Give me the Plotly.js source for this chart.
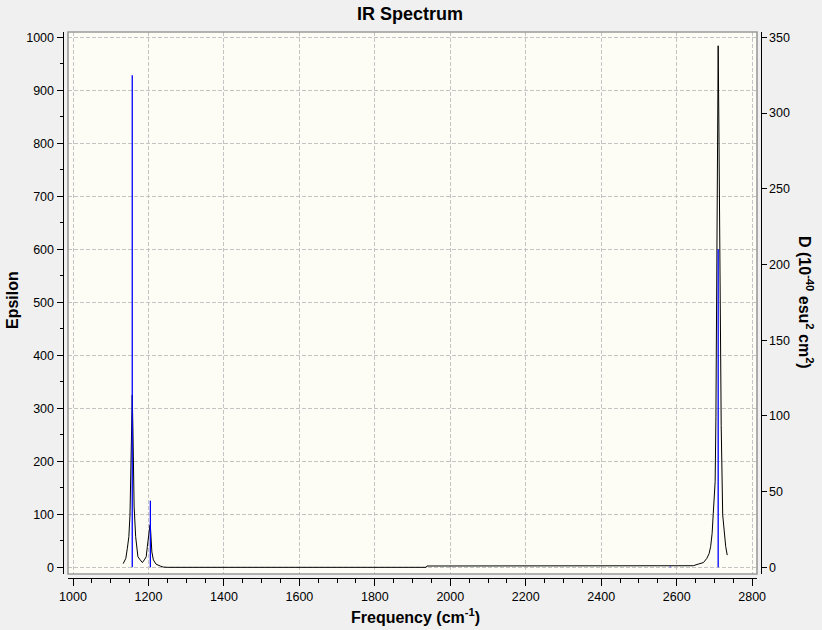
<!DOCTYPE html>
<html>
<head>
<meta charset="utf-8">
<script src="https://cdn.plot.ly/plotly-3.0.1.min.js"></script>
<style>
  html, body { margin: 0; padding: 0; background: #f0f0f0; }
  #chart { width: 822px; height: 630px; }
</style>
</head>
<body>
<div id="chart"></div>
<script>
// Broadened spectrum (black)
const freq = [1133, 1140, 1144, 1148, 1151, 1153, 1155, 1157, 1159, 1160, 1162, 1166, 1169, 1172, 1178, 1184,
  1189, 1194, 1197, 1200, 1202, 1204, 1205, 1207, 1209, 1213, 1220, 1231, 1239, 1250, 1600, 1936, 1938,
  2300, 2600, 2644, 2657, 2671, 2680, 2686, 2690, 2694, 2697, 2702, 2704, 2706, 2708, 2710, 2712, 2715,
  2718, 2722, 2726, 2730, 2734];
const epsilon = [7, 17, 36, 58, 99, 184, 278, 325, 250, 160, 114, 58, 33, 20, 14, 9,
  14, 20, 39, 58, 80, 80, 78, 52, 29, 14, 6, 2.5, 0.5, 0, 0, 0, 2.5,
  2.5, 2.5, 3, 6, 9, 17, 26, 39, 64, 102, 162, 284, 533, 839, 984, 823, 504,
  268, 99, 64, 39, 23];

// Stick spectrum (blue), dipole strength D
const stickFreq = [1157, 1205, 2583, 2710];
const stickD = [325, 44, 0.5, 210];

const font = 'Liberation Sans, Arial, sans-serif';

// plot frame in pixels (paper is 822 x 630, margins are zero)
const W = 822, H = 630;
const px = v => v / W;
const py = v => 1 - v / H;

const sx = [], sy = [];
stickFreq.forEach((f, i) => { sx.push(f, f, null); sy.push(0, stickD[i], null); });

const data = [
  { type: 'scatter', mode: 'lines', x: freq, y: epsilon, line: { color: '#000000', width: 1 },
    hoverinfo: 'x+y', showlegend: false },
  { type: 'scatter', mode: 'lines', x: sx, y: sy, yaxis: 'y2', line: { color: '#0000ff', width: 1.3 },
    hoverinfo: 'x+y', showlegend: false }
];

const grid = { gridcolor: '#c4c4c4', griddash: '4px,2px', gridwidth: 1 };

const layout = {
  width: W, height: H,
  margin: { l: 0, r: 0, t: 0, b: 0 },
  paper_bgcolor: '#f0f0f0',
  plot_bgcolor: '#fdfdf5',
  font: { family: font, size: 12, color: '#000' },
  showlegend: false,
  xaxis: {
    domain: [px(68), px(757)], range: [986.7, 2812.9],
    anchor: 'free', position: py(577.7),
    tick0: 1000, dtick: 200, ticks: 'outside', ticklen: 7, tickcolor: '#000',
    minor: { dtick: 50, ticklen: 4, tickcolor: '#000', ticks: 'outside', showgrid: false },
    showline: true, linecolor: '#000', linewidth: 1, zeroline: false,
    showgrid: true, ...grid,
    tickfont: { size: 12.5 }
  },
  yaxis: {
    domain: [py(574), py(32)], range: [-12.6, 1010],
    anchor: 'free', position: px(62.5),
    tick0: 0, dtick: 100, ticks: 'outside', ticklen: 6, tickcolor: '#000',
    minor: { dtick: 50, ticklen: 3, tickcolor: '#000', ticks: 'outside', showgrid: false },
    showline: true, linecolor: '#000', linewidth: 1, zeroline: false,
    showgrid: true, ...grid,
    tickfont: { size: 12.5 }
  },
  yaxis2: {
    overlaying: 'y', side: 'right', range: [-4.41, 353.5],
    anchor: 'free', position: px(760.5),
    tick0: 0, dtick: 50, ticks: 'outside', ticklen: 5, tickcolor: '#000',
    showline: true, linecolor: '#000', linewidth: 1, zeroline: false, showgrid: false,
    tickfont: { size: 12.5 }
  },
  shapes: [
    { type: 'rect', xref: 'paper', yref: 'paper', x0: px(68), x1: px(757), y0: py(574), y1: py(32),
      line: { color: '#9a9a9a', width: 1.6 }, layer: 'above' }
  ],
  annotations: [
    { text: '<b>IR Spectrum</b>', xref: 'paper', yref: 'paper', x: px(410), y: py(14),
      showarrow: false, font: { size: 18 }, xanchor: 'center', yanchor: 'middle' },
    { text: '<b>Frequency (cm<sup>-1</sup>)</b>', xref: 'paper', yref: 'paper', x: px(415), y: py(616),
      showarrow: false, font: { size: 16 }, xanchor: 'center', yanchor: 'middle' },
    { text: '<b>Epsilon</b>', xref: 'paper', yref: 'paper', x: px(12), y: py(300), textangle: -90,
      showarrow: false, font: { size: 16 }, xanchor: 'center', yanchor: 'middle' },
    { text: '<b>D (10<sup>-40</sup> esu<sup>2</sup> cm<sup>2</sup>)</b>', xref: 'paper', yref: 'paper',
      x: px(806), y: py(302), textangle: 90,
      showarrow: false, font: { size: 16 }, xanchor: 'center', yanchor: 'middle' }
  ]
};

Plotly.newPlot('chart', data, layout, { displayModeBar: false, staticPlot: true });
</script>
</body>
</html>
